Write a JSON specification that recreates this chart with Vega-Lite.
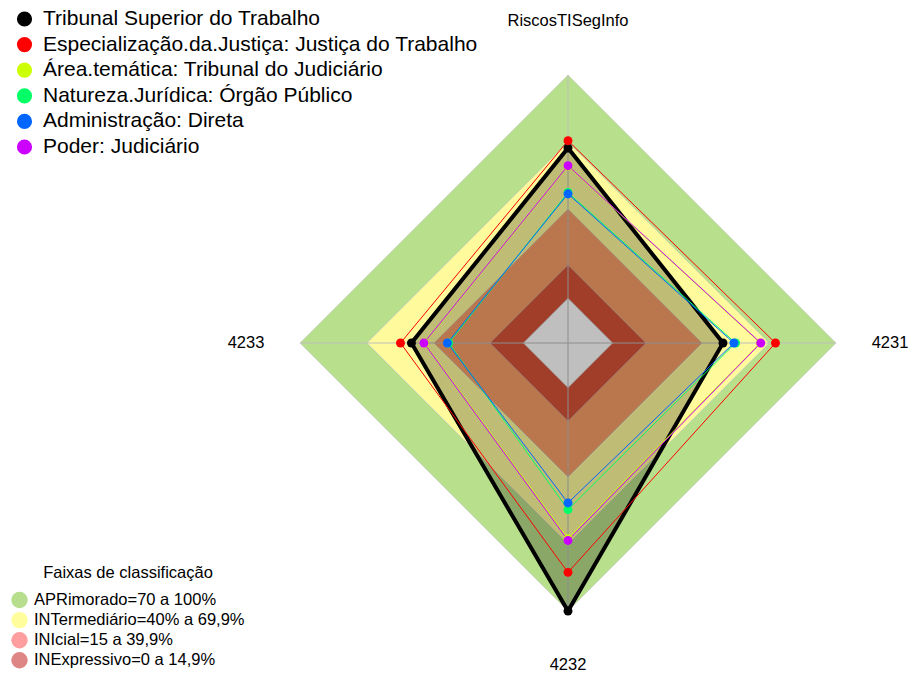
{
  "$schema": "https://vega.github.io/schema/vega-lite/v6.json",
  "width": 909,
  "height": 675,
  "padding": 0,
  "autosize": {"type": "none"},
  "background": "white",
  "config": {"view": {"stroke": null}, "font": "Liberation Sans"},
  "datasets": {
    "series": [
      {"serie": "Tribunal Superior do Trabalho", "eixo": "RiscosTISegInfo", "k": 0, "valor": 67.3},
      {"serie": "Tribunal Superior do Trabalho", "eixo": "4231", "k": 1, "valor": 49.4},
      {"serie": "Tribunal Superior do Trabalho", "eixo": "4232", "k": 2, "valor": 100},
      {"serie": "Tribunal Superior do Trabalho", "eixo": "4233", "k": 3, "valor": 50.1},
      {"serie": "Especialização.da.Justiça: Justiça do Trabalho", "eixo": "RiscosTISegInfo", "k": 0, "valor": 70.6},
      {"serie": "Especialização.da.Justiça: Justiça do Trabalho", "eixo": "4231", "k": 1, "valor": 72.9},
      {"serie": "Especialização.da.Justiça: Justiça do Trabalho", "eixo": "4232", "k": 2, "valor": 82.7},
      {"serie": "Especialização.da.Justiça: Justiça do Trabalho", "eixo": "4233", "k": 3, "valor": 55.0},
      {"serie": "Área.temática: Tribunal do Judiciário", "eixo": "RiscosTISegInfo", "k": 0, "valor": 59.2},
      {"serie": "Área.temática: Tribunal do Judiciário", "eixo": "4231", "k": 1, "valor": 66.1},
      {"serie": "Área.temática: Tribunal do Judiciário", "eixo": "4232", "k": 2, "valor": 67.6},
      {"serie": "Área.temática: Tribunal do Judiciário", "eixo": "4233", "k": 3, "valor": 44.3},
      {"serie": "Natureza.Jurídica: Órgão Público", "eixo": "RiscosTISegInfo", "k": 0, "valor": 47.4},
      {"serie": "Natureza.Jurídica: Órgão Público", "eixo": "4231", "k": 1, "valor": 55.0},
      {"serie": "Natureza.Jurídica: Órgão Público", "eixo": "4232", "k": 2, "valor": 54.6},
      {"serie": "Natureza.Jurídica: Órgão Público", "eixo": "4233", "k": 3, "valor": 33.4},
      {"serie": "Administração: Direta", "eixo": "RiscosTISegInfo", "k": 0, "valor": 46.8},
      {"serie": "Administração: Direta", "eixo": "4231", "k": 1, "valor": 54.3},
      {"serie": "Administração: Direta", "eixo": "4232", "k": 2, "valor": 51.6},
      {"serie": "Administração: Direta", "eixo": "4233", "k": 3, "valor": 34.0},
      {"serie": "Poder: Judiciário", "eixo": "RiscosTISegInfo", "k": 0, "valor": 59.4},
      {"serie": "Poder: Judiciário", "eixo": "4231", "k": 1, "valor": 66.3},
      {"serie": "Poder: Judiciário", "eixo": "4232", "k": 2, "valor": 68.4},
      {"serie": "Poder: Judiciário", "eixo": "4233", "k": 3, "valor": 44.5}
    ],
    "faixas": [
      {"faixa": "APR", "k": 0, "valor": 100}, {"faixa": "APR", "k": 1, "valor": 100}, {"faixa": "APR", "k": 2, "valor": 100}, {"faixa": "APR", "k": 3, "valor": 100},
      {"faixa": "INT", "k": 0, "valor": 70}, {"faixa": "INT", "k": 1, "valor": 70}, {"faixa": "INT", "k": 2, "valor": 70}, {"faixa": "INT", "k": 3, "valor": 70},
      {"faixa": "INI", "k": 0, "valor": 40}, {"faixa": "INI", "k": 1, "valor": 40}, {"faixa": "INI", "k": 2, "valor": 40}, {"faixa": "INI", "k": 3, "valor": 40},
      {"faixa": "INE", "k": 0, "valor": 15}, {"faixa": "INE", "k": 1, "valor": 15}, {"faixa": "INE", "k": 2, "valor": 15}, {"faixa": "INE", "k": 3, "valor": 15},
      {"faixa": "C", "k": 0, "valor": 0}, {"faixa": "C", "k": 1, "valor": 0}, {"faixa": "C", "k": 2, "valor": 0}, {"faixa": "C", "k": 3, "valor": 0}
    ],
    "eixos": [
      {"eixo": "RiscosTISegInfo", "k": 0},
      {"eixo": "4231", "k": 1},
      {"eixo": "4232", "k": 2},
      {"eixo": "4233", "k": 3}
    ],
    "legenda": [
      {"faixa": "APRimorado=70 a 100%"},
      {"faixa": "INTermediário=40% a 69,9%"},
      {"faixa": "INIcial=15 a 39,9%"},
      {"faixa": "INExpressivo=0 a 14,9%"}
    ]
  },
  "layer": [
    {
      "data": {"name": "legenda"},
      "transform": [
        {"calculate": "0", "as": "cx"},
        {"calculate": "0", "as": "cy"}
      ],
      "mark": {"type": "point", "filled": true, "opacity": 1, "size": 1},
      "encoding": {
        "x": {"field": "cx", "type": "quantitative", "scale": {"domain": [-568, 341], "nice": false, "zero": false}, "axis": null},
        "y": {"field": "cy", "type": "quantitative", "scale": {"domain": [-332, 343], "nice": false, "zero": false}, "axis": null},
        "fill": {
          "field": "faixa", "type": "nominal",
          "scale": {"domain": ["APRimorado=70 a 100%", "INTermediário=40% a 69,9%", "INIcial=15 a 39,9%", "INExpressivo=0 a 14,9%"], "range": ["#b6de8c", "#fffd9c", "#ff9e9e", "#de8585"]},
          "legend": {
            "orient": "none", "legendX": 11, "legendY": 565, "direction": "vertical",
            "title": "Faixas de classificação", "titleFontSize": 16.5, "titleFontWeight": "normal", "titleColor": "black", "titleFont": "Liberation Sans",
            "titleAnchor": "middle", "titlePadding": 10,
            "labelFontSize": 16.5, "labelColor": "black", "labelFont": "Liberation Sans", "labelOffset": 6, "labelLimit": 400,
            "symbolType": "circle", "symbolSize": 270, "symbolStrokeWidth": 0, "symbolOpacity": 1, "rowPadding": 3.1, "padding": 0
          }
        }
      }
    },
    {
      "data": {"name": "faixas"},
      "transform": [
        {"filter": "datum.faixa == 'APR'"},
        {"calculate": "44.67 + 2.2333 * datum.valor", "as": "r"},
        {"calculate": "datum.r * sin(datum.k * PI / 2)", "as": "x"},
        {"calculate": "datum.r * cos(datum.k * PI / 2)", "as": "y"}
      ],
      "mark": {"type": "line", "interpolate": "linear-closed", "fill": "#b8df8b", "stroke": "#c8c8c8", "strokeWidth": 0.6},
      "encoding": {"x": {"field": "x", "type": "quantitative"}, "y": {"field": "y", "type": "quantitative"}, "order": {"field": "k", "type": "quantitative"}}
    },
    {
      "data": {"name": "faixas"},
      "transform": [
        {"filter": "datum.faixa == 'INT'"},
        {"calculate": "44.67 + 2.2333 * datum.valor", "as": "r"},
        {"calculate": "datum.r * sin(datum.k * PI / 2)", "as": "x"},
        {"calculate": "datum.r * cos(datum.k * PI / 2)", "as": "y"}
      ],
      "mark": {"type": "line", "interpolate": "linear-closed", "fill": "#fffb9c", "stroke": "#c8c8c8", "strokeWidth": 0.6},
      "encoding": {"x": {"field": "x", "type": "quantitative"}, "y": {"field": "y", "type": "quantitative"}, "order": {"field": "k", "type": "quantitative"}}
    },
    {
      "data": {"name": "faixas"},
      "transform": [
        {"filter": "datum.faixa == 'INI'"},
        {"calculate": "44.67 + 2.2333 * datum.valor", "as": "r"},
        {"calculate": "datum.r * sin(datum.k * PI / 2)", "as": "x"},
        {"calculate": "datum.r * cos(datum.k * PI / 2)", "as": "y"}
      ],
      "mark": {"type": "line", "interpolate": "linear-closed", "fill": "#f89e67", "stroke": "#c8c8c8", "strokeWidth": 0.6},
      "encoding": {"x": {"field": "x", "type": "quantitative"}, "y": {"field": "y", "type": "quantitative"}, "order": {"field": "k", "type": "quantitative"}}
    },
    {
      "data": {"name": "faixas"},
      "transform": [
        {"filter": "datum.faixa == 'INE'"},
        {"calculate": "44.67 + 2.2333 * datum.valor", "as": "r"},
        {"calculate": "datum.r * sin(datum.k * PI / 2)", "as": "x"},
        {"calculate": "datum.r * cos(datum.k * PI / 2)", "as": "y"}
      ],
      "mark": {"type": "line", "interpolate": "linear-closed", "fill": "#d65338", "stroke": "#c8c8c8", "strokeWidth": 0.6},
      "encoding": {"x": {"field": "x", "type": "quantitative"}, "y": {"field": "y", "type": "quantitative"}, "order": {"field": "k", "type": "quantitative"}}
    },
    {
      "data": {"name": "faixas"},
      "transform": [
        {"filter": "datum.faixa == 'C'"},
        {"calculate": "44.67 + 2.2333 * datum.valor", "as": "r"},
        {"calculate": "datum.r * sin(datum.k * PI / 2)", "as": "x"},
        {"calculate": "datum.r * cos(datum.k * PI / 2)", "as": "y"}
      ],
      "mark": {"type": "line", "interpolate": "linear-closed", "fill": "#ffffff", "stroke": "#c8c8c8", "strokeWidth": 0.6},
      "encoding": {"x": {"field": "x", "type": "quantitative"}, "y": {"field": "y", "type": "quantitative"}, "order": {"field": "k", "type": "quantitative"}}
    },
    {
      "data": {"name": "eixos"},
      "transform": [
        {"calculate": "0", "as": "x0"},
        {"calculate": "0", "as": "y0"},
        {"calculate": "(44.67 + 223.33) * sin(datum.k * PI / 2)", "as": "xe"},
        {"calculate": "(44.67 + 223.33) * cos(datum.k * PI / 2)", "as": "ye"}
      ],
      "mark": {"type": "rule", "stroke": "#bdbdbd", "strokeWidth": 1},
      "encoding": {
        "x": {"field": "x0", "type": "quantitative"},
        "y": {"field": "y0", "type": "quantitative"},
        "x2": {"field": "xe"},
        "y2": {"field": "ye"}
      }
    },
    {
      "data": {"name": "series"},
      "transform": [
        {"filter": "datum.serie == 'Tribunal Superior do Trabalho'"},
        {"calculate": "44.67 + 2.2333 * datum.valor", "as": "r"},
        {"calculate": "datum.r * sin(datum.k * PI / 2)", "as": "x"},
        {"calculate": "datum.r * cos(datum.k * PI / 2)", "as": "y"}
      ],
      "mark": {"type": "line", "interpolate": "linear-closed", "fill": "black", "fillOpacity": 0.25, "stroke": "black", "strokeWidth": 4},
      "encoding": {"x": {"field": "x", "type": "quantitative"}, "y": {"field": "y", "type": "quantitative"}, "order": {"field": "k", "type": "quantitative"}}
    },
    {
      "data": {"name": "series"},
      "transform": [
        {"filter": "datum.serie != 'Tribunal Superior do Trabalho'"},
        {"calculate": "44.67 + 2.2333 * datum.valor", "as": "r"},
        {"calculate": "datum.r * sin(datum.k * PI / 2)", "as": "x"},
        {"calculate": "datum.r * cos(datum.k * PI / 2)", "as": "y"}
      ],
      "mark": {"type": "line", "interpolate": "linear-closed", "strokeWidth": 1},
      "encoding": {
        "x": {"field": "x", "type": "quantitative"},
        "y": {"field": "y", "type": "quantitative"},
        "order": {"field": "k", "type": "quantitative"},
        "detail": {"field": "serie", "type": "nominal"},
        "stroke": {
          "condition": [
            {"test": "datum.serie == 'Especialização.da.Justiça: Justiça do Trabalho'", "value": "#FF0000"},
            {"test": "datum.serie == 'Área.temática: Tribunal do Judiciário'", "value": "#CCFF00"},
            {"test": "datum.serie == 'Natureza.Jurídica: Órgão Público'", "value": "#00FF66"},
            {"test": "datum.serie == 'Administração: Direta'", "value": "#0066FF"}
          ],
          "value": "#CC00FF"
        }
      }
    },
    {
      "data": {"name": "series"},
      "transform": [
        {"calculate": "44.67 + 2.2333 * datum.valor", "as": "r"},
        {"calculate": "datum.r * sin(datum.k * PI / 2)", "as": "x"},
        {"calculate": "datum.r * cos(datum.k * PI / 2)", "as": "y"}
      ],
      "mark": {"type": "point", "filled": true, "opacity": 1, "size": 80, "shape": "circle"},
      "encoding": {
        "x": {"field": "x", "type": "quantitative"},
        "y": {"field": "y", "type": "quantitative"},
        "color": {
          "field": "serie", "type": "nominal",
          "scale": {"domain": ["Tribunal Superior do Trabalho", "Especialização.da.Justiça: Justiça do Trabalho", "Área.temática: Tribunal do Judiciário", "Natureza.Jurídica: Órgão Público", "Administração: Direta", "Poder: Judiciário"], "range": ["#000000", "#FF0000", "#CCFF00", "#00FF66", "#0066FF", "#CC00FF"]},
          "legend": {
            "orient": "none", "legendX": 14, "legendY": 8.5, "direction": "vertical", "title": null,
            "labelFontSize": 21, "labelColor": "black", "labelFont": "Liberation Sans", "labelOffset": 8, "labelLimit": 600,
            "symbolType": "circle", "symbolSize": 230, "symbolStrokeWidth": 0, "symbolOpacity": 1, "rowPadding": 3.6, "padding": 0
          }
        }
      }
    },
    {
      "data": {"name": "eixos"},
      "transform": [
        {"calculate": "322 * sin(datum.k * PI / 2)", "as": "xl"},
        {"calculate": "322 * cos(datum.k * PI / 2)", "as": "yl"}
      ],
      "mark": {"type": "text", "fontSize": 16.5, "font": "Liberation Sans", "color": "black", "align": "center", "baseline": "middle"},
      "encoding": {
        "x": {"field": "xl", "type": "quantitative"},
        "y": {"field": "yl", "type": "quantitative"},
        "text": {"field": "eixo", "type": "nominal"}
      }
    }
  ]
}
